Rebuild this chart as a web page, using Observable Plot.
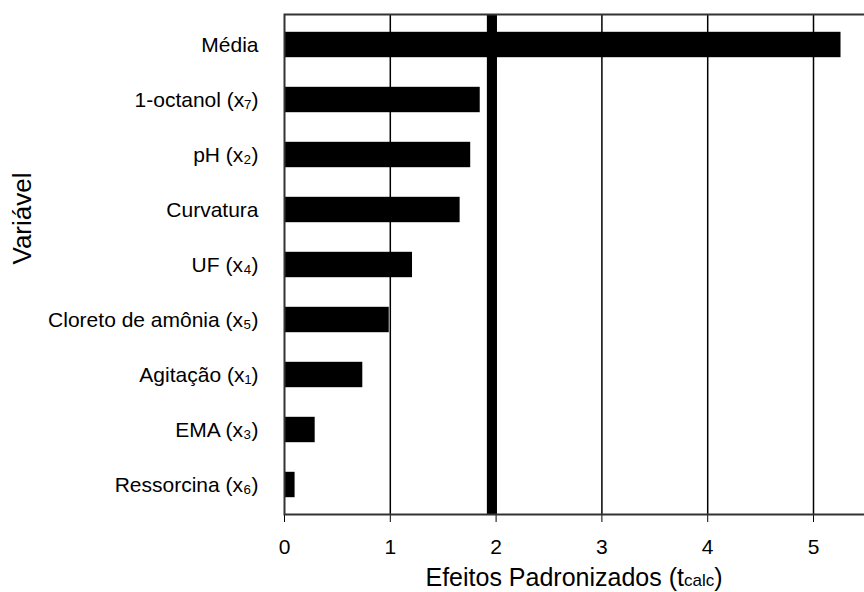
<!DOCTYPE html>
<html>
<head>
<meta charset="utf-8">
<script src="https://cdn.jsdelivr.net/npm/d3@7"></script>
<script src="https://cdn.jsdelivr.net/npm/@observablehq/plot@0.6"></script>
<style>
  html, body { margin: 0; padding: 0; background: #fff; overflow: hidden; }
  #chart svg { display: block; overflow: hidden; }
  #xtitle {
    width: 864px; box-sizing: border-box; padding-left: 284px;
    text-align: center; font-family: "Liberation Sans", Arial, sans-serif;
    font-size: 25px; line-height: 30px; height: 30px; color: #000;
  }
  #xtitle .sub { font-size: 17px; }
</style>
</head>
<body>
<div id="chart"></div>
<div id="xtitle">Efeitos Padronizados (t<span class="sub">calc</span>)</div>
<script>
// Variables and their standardized effects (t values)
const variaveis = [
  "Média",
  "1-octanol (x₇)",
  "pH (x₂)",
  "Curvatura",
  "UF (x₄)",
  "Cloreto de amônia (x₅)",
  "Agitação (x₁)",
  "EMA (x₃)",
  "Ressorcina (x₆)"
];
const efeitos = [5.26, 1.85, 1.76, 1.66, 1.21, 0.99, 0.74, 0.29, 0.10];
const xTicks = [0, 1, 2, 3, 4, 5];
const tCritico = 1.96;

const dados = variaveis.map((v, i) => ({variavel: v, efeito: efeitos[i]}));

const chart = Plot.plot({
  width: 864,
  height: 562,
  marginLeft: 284,
  marginRight: 0,
  marginTop: 14,
  marginBottom: 48,
  style: {fontFamily: "'Liberation Sans', Arial, sans-serif", fontSize: "21px", color: "#000", background: "#fff"},
  x: {domain: [0, 5.482], ticks: xTicks, tickFormat: "d", tickSize: 8, tickPadding: 17, label: null},
  y: {domain: variaveis, padding: 0, tickSize: 0, tickPadding: 26, label: null},
  marks: [
    // vertical grid at each integer effect
    Plot.ruleX(xTicks.slice(1), {stroke: "#000", strokeWidth: 1.5}),
    // critical t value
    Plot.ruleX([tCritico], {stroke: "#000", strokeWidth: 10}),
    Plot.barX(dados, {x: "efeito", y: "variavel", fill: "#000", insetTop: 14.8, insetBottom: 14.8}),
    Plot.frame({stroke: "#333", strokeWidth: 2, insetRight: -20}),
    Plot.text(["Variável"], {frameAnchor: "left", dx: -262, rotate: -90, fontSize: 26, fill: "#000"})
  ]
});
document.getElementById("chart").appendChild(chart);
</script>
</body>
</html>
